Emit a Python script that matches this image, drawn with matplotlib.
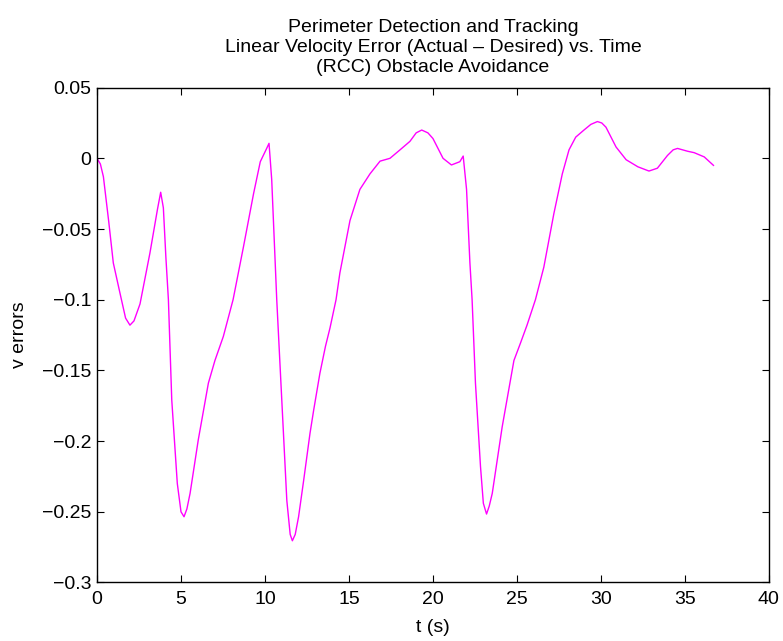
import matplotlib
matplotlib.use('Agg')
import matplotlib.pyplot as plt

matplotlib.rcParams['font.family'] = 'sans-serif'
matplotlib.rcParams['font.sans-serif'] = ['Liberation Sans', 'DejaVu Sans']

# time (s) and linear velocity error
t = [0.0, 0.2, 0.38, 0.7, 0.97, 1.37, 1.7, 1.96, 2.2, 2.56, 3.15, 3.6, 3.79,
     3.95, 4.1, 4.25, 4.45, 4.78, 5.0, 5.18, 5.35, 5.54, 6.03, 6.63, 7.02,
     7.52, 8.1, 8.72, 9.32, 9.72, 10.1, 10.24, 10.4, 10.7, 11.0, 11.3, 11.5,
     11.63, 11.8, 12.0, 12.3, 12.68, 12.9, 13.27, 13.6, 13.87, 14.23, 14.46,
     15.06, 15.65, 16.25, 16.85, 17.44, 18.04, 18.63, 19.0, 19.33, 19.7,
     20.0, 20.6, 21.1, 21.6, 21.8, 22.0, 22.2, 22.33, 22.53, 22.83, 23.0,
     23.19, 23.35, 23.53, 24.12, 24.82, 25.2, 25.6, 26.1, 26.6, 27.2, 27.7,
     28.1, 28.5, 28.99, 29.4, 29.79, 30.05, 30.3, 30.9, 31.5, 32.2, 32.86,
     33.36, 33.96, 34.3, 34.56, 35.16, 35.55, 36.15, 36.7]
v_err = [0.0, -0.004, -0.013, -0.045, -0.074, -0.0955, -0.113, -0.118,
         -0.115, -0.103, -0.067, -0.036, -0.024, -0.035, -0.07, -0.100,
         -0.171, -0.230, -0.250, -0.2535, -0.248, -0.237, -0.199, -0.159,
         -0.143, -0.126, -0.100, -0.0625, -0.025, -0.0024, 0.007, 0.0106,
         -0.015, -0.100, -0.171, -0.242, -0.266, -0.2705, -0.266, -0.2535,
         -0.228, -0.1945, -0.178, -0.152, -0.133, -0.120, -0.100, -0.081,
         -0.044, -0.022, -0.011, -0.002, 0.0, 0.006, 0.012, 0.018, 0.020,
         0.018, 0.014, 0.0, -0.0047, -0.0024, 0.0016, -0.022, -0.074, -0.100,
         -0.159, -0.218, -0.244, -0.2516, -0.246, -0.237, -0.190, -0.143,
         -0.131, -0.118, -0.100, -0.077, -0.039, -0.011, 0.006, 0.015, 0.020,
         0.024, 0.026, 0.025, 0.022, 0.008, -0.001, -0.006, -0.009, -0.007,
         0.002, 0.006, 0.007, 0.005, 0.004, 0.001, -0.005]

fig = plt.figure(figsize=(7.83, 6.41), dpi=100)
ax = fig.add_axes([0.1239, 0.0913, 0.8581, 0.772])

ax.plot(t, v_err, color='#ff00ff', linewidth=1.0)

ax.set_xlim(0, 40)
ax.set_ylim(-0.3, 0.05)
ax.set_xticks(range(0, 41, 5))
ax.set_yticks([-0.3, -0.25, -0.2, -0.15, -0.1, -0.05, 0, 0.05])
ax.set_yticklabels(['\u22120.3', '\u22120.25', '\u22120.2', '\u22120.15',
                    '\u22120.1', '\u22120.05', '0', '0.05'])
ax.tick_params(direction='in', top=True, right=True, labelsize=14,
               length=5, pad=4)
ax.tick_params(axis='x', pad=6)

ax.set_xlabel('t (s)', fontsize=14, labelpad=8)
ax.set_ylabel('v errors', fontsize=14, labelpad=10)
ax.set_title('Perimeter Detection and Tracking\n'
             'Linear Velocity Error (Actual \u2013 Desired) vs. Time\n'
             '(RCC) Obstacle Avoidance', fontsize=14, pad=11, linespacing=1.25)

for s in ax.spines.values():
    s.set_linewidth(1.0)

fig.savefig('out.png', dpi=100)
